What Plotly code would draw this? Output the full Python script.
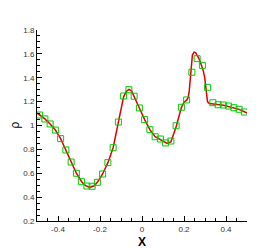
import plotly.graph_objects as go

# Symbols (sampled solution)
sym_x = [-0.4875, -0.4625, -0.4375, -0.4125, -0.3875, -0.3625, -0.3375, -0.3125,
         -0.2875, -0.2625, -0.2375, -0.2125, -0.1875, -0.1625, -0.1375, -0.1125,
         -0.0875, -0.0625, -0.0375, -0.0125, 0.0125, 0.0375, 0.0625, 0.0875,
         0.1125, 0.1375, 0.1625, 0.1875, 0.2125, 0.2375, 0.2625, 0.2875,
         0.3125, 0.3375, 0.3625, 0.3875, 0.4125, 0.4375, 0.4625, 0.4875]
sym_rho = [1.088, 1.055, 1.013, 0.962, 0.890, 0.795, 0.694, 0.600,
           0.529, 0.493, 0.491, 0.524, 0.594, 0.689, 0.814, 1.029,
           1.247, 1.300, 1.245, 1.147, 1.049, 0.965, 0.906, 0.887,
           0.854, 0.870, 0.998, 1.153, 1.214, 1.446, 1.560, 1.504,
           1.320, 1.191, 1.174, 1.172, 1.163, 1.149, 1.136, 1.113]

# Reference solution (solid line)
ref_x = [-0.5, -0.4875, -0.4625, -0.4375, -0.4125, -0.3875, -0.3625, -0.3375, -0.3125,
         -0.2875, -0.27, -0.25, -0.23, -0.2125, -0.1875, -0.1625, -0.1375, -0.1125,
         -0.0875, -0.075, -0.0625, -0.05, -0.0375, -0.0125, 0.0125, 0.0375, 0.0625,
         0.0875, 0.1125, 0.12, 0.1375, 0.1625, 0.1875, 0.2, 0.2125, 0.22, 0.225,
         0.23, 0.235, 0.24, 0.248, 0.255, 0.262, 0.27, 0.28, 0.29, 0.298, 0.303,
         0.307, 0.312, 0.32, 0.335, 0.36, 0.3875, 0.4125, 0.4375, 0.4625, 0.4875, 0.5]
ref_rho = [1.105, 1.088, 1.055, 1.013, 0.962, 0.890, 0.795, 0.694, 0.600,
           0.529, 0.498, 0.482, 0.493, 0.524, 0.594, 0.689, 0.814, 1.029,
           1.240, 1.285, 1.303, 1.290, 1.245, 1.147, 1.049, 0.965, 0.906,
           0.880, 0.853, 0.850, 0.862, 0.990, 1.150, 1.195, 1.212, 1.235, 1.290,
           1.400, 1.530, 1.590, 1.615, 1.610, 1.590, 1.565, 1.520, 1.470, 1.410, 1.340,
           1.260, 1.200, 1.185, 1.180, 1.175, 1.170, 1.160, 1.148, 1.135, 1.115, 1.105]

x_tickvals = [-0.4, -0.2, 0, 0.2, 0.4]
x_ticktext = ["-0.4", "-0.2", "0", "0.2", "0.4"]
y_tickvals = [0.2, 0.4, 0.6, 0.8, 1.0, 1.2, 1.4, 1.6, 1.8]
y_ticktext = ["0.2", "0.4", "0.6", "0.8", "1", "1.2", "1.4", "1.6", "1.8"]

fig = go.Figure()
fig.add_trace(go.Scatter(x=ref_x, y=ref_rho, mode="lines",
                         line=dict(color="rgb(225,0,0)", width=1.5),
                         showlegend=False))
fig.add_trace(go.Scatter(x=sym_x, y=sym_rho, mode="markers",
                         marker=dict(symbol="square-open", size=6,
                                     color="rgb(0,205,0)",
                                     line=dict(width=1, color="rgb(0,205,0)")),
                         showlegend=False))

axis_common = dict(showgrid=False, zeroline=False, showline=True,
                   linecolor="black", linewidth=1, mirror=False, automargin=False,
                   ticks="inside", ticklen=5, tickcolor="black", tickwidth=1,
                   tickfont=dict(family="Liberation Sans, Arial", size=8, color="#333"))

# page has an 8px body margin: compensate in the figure margins/size
fig.update_layout(
    width=272, height=241,
    margin=dict(l=29, r=33, t=22, b=28),
    paper_bgcolor="white", plot_bgcolor="white",
    xaxis=dict(range=[-0.5, 0.5], tickvals=x_tickvals, ticktext=x_ticktext,
               minor=dict(ticks="inside", dtick=0.05, tick0=0, ticklen=3,
                          tickcolor="black", tickwidth=1),
               title=dict(text="<b>X</b>",
                          font=dict(family="Liberation Sans, Arial", size=12, color="black")),
               **axis_common),
    yaxis=dict(range=[0.2, 1.8], tickvals=y_tickvals, ticktext=y_ticktext,
               minor=dict(ticks="inside", dtick=0.05, tick0=0, ticklen=3,
                          tickcolor="black", tickwidth=1),
               **axis_common),
    annotations=[dict(text="ρ", xref="paper", yref="y", x=0, y=1.0,
                      xshift=-23, xanchor="center", yanchor="middle",
                      textangle=-90, showarrow=False,
                      font=dict(family="Liberation Sans, Arial", size=12, color="black"))],
)

fig.write_html("out.html")
